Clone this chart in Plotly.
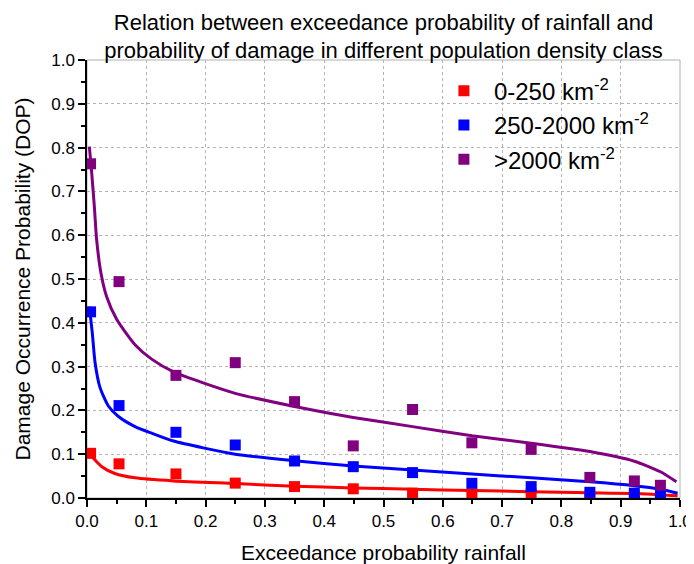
import plotly.graph_objects as go

# observed points
x_obs = [0.006, 0.054, 0.15, 0.25, 0.35, 0.449, 0.549, 0.649, 0.749, 0.848, 0.923, 0.967]
red_obs = [0.102, 0.078, 0.055, 0.034, 0.026, 0.021, 0.011, 0.009, 0.009, 0.004, 0.003, 0.002]
blue_obs = [0.425, 0.211, 0.150, 0.121, 0.0845, 0.0715, 0.058, 0.0335, 0.026, 0.013, 0.011, 0.009]
purple_obs = [0.763, 0.494, 0.280, 0.309, 0.220, 0.119, 0.202, 0.126, 0.111, 0.047, 0.039, 0.029]

# fitted curves
purple_fit_x = [0.004, 0.008, 0.0124, 0.0163, 0.0236, 0.033, 0.05, 0.081, 0.109, 0.146, 0.25, 0.35,
                0.449, 0.549, 0.649, 0.749, 0.848, 0.923, 0.967, 0.994]
purple_fit_y = [0.802, 0.741, 0.665, 0.589, 0.513, 0.460, 0.408, 0.350, 0.317, 0.288, 0.239, 0.209,
                0.184, 0.163, 0.142, 0.125, 0.106, 0.084, 0.060, 0.037]
blue_fit_x = [0.004, 0.009, 0.0135, 0.022, 0.036, 0.053, 0.081, 0.109, 0.146, 0.25, 0.35,
              0.449, 0.549, 0.649, 0.749, 0.848, 0.923, 0.967, 0.996]
blue_fit_y = [0.437, 0.376, 0.310, 0.252, 0.210, 0.186, 0.163, 0.148, 0.130, 0.100, 0.085,
              0.073, 0.064, 0.055, 0.046, 0.037, 0.028, 0.020, 0.011]
red_fit_x = [0.005, 0.0135, 0.025, 0.047, 0.081, 0.146, 0.25, 0.35, 0.449, 0.549, 0.649, 0.749,
             0.848, 0.923, 0.967, 0.996]
red_fit_y = [0.100, 0.087, 0.0715, 0.056, 0.046, 0.039, 0.033, 0.027, 0.023, 0.020, 0.017, 0.0145,
             0.012, 0.010, 0.0075, 0.005]

names = ["0-250 km<sup>-2</sup>", "250-2000 km<sup>-2</sup>", ">2000 km<sup>-2</sup>"]
colors = ["#FF0000", "#0000FF", "#800080"]

FONT = "Liberation Sans, Arial, sans-serif"

fig = go.Figure()
for fx, fy, c in [(red_fit_x, red_fit_y, colors[0]), (blue_fit_x, blue_fit_y, colors[1]),
                  (purple_fit_x, purple_fit_y, colors[2])]:
    fig.add_trace(go.Scatter(x=fx, y=fy, mode="lines", line=dict(color=c, width=3, shape="spline", smoothing=0.6),
                             showlegend=False, hoverinfo="skip"))
for ys, c, n in [(red_obs, colors[0], names[0]), (blue_obs, colors[1], names[1]), (purple_obs, colors[2], names[2])]:
    fig.add_trace(go.Scatter(x=x_obs, y=ys, mode="markers", name=n,
                             marker=dict(symbol="square", size=11, color=c)))

axis_common = dict(
    showline=True, linecolor="black", linewidth=1.5,
    ticks="outside", ticklen=7, tickwidth=1.5, tickcolor="black",
    minor=dict(ticks="outside", ticklen=4, tickwidth=1.5, tickcolor="black", dtick=0.05, showgrid=False),
    showgrid=True, gridcolor="#b4b4b4", griddash="dot", gridwidth=1,
    zeroline=False, dtick=0.1, tickformat=".1f", automargin=False,
    tickfont=dict(size=17, color="black", family=FONT),
)
fig.update_xaxes(range=[0, 1], title=dict(text="Exceedance probability rainfall", font=dict(size=21, family=FONT, color="black"), standoff=16), **axis_common)
fig.update_yaxes(range=[0, 1], title=dict(text="Damage Occurrence Probability (DOP)", font=dict(size=21, family=FONT, color="black"), standoff=15), **axis_common)

fig.add_shape(type="rect", xref="paper", yref="paper", x0=0, y0=0, x1=1, y1=1,
              line=dict(color="#b0b0b0", width=1), layer="below")

# the page body has an 8px default margin, so the figure is 8px smaller
fig.update_layout(
    width=686, height=556,
    margin=dict(l=79, r=14, t=52, b=66),
    paper_bgcolor="white", plot_bgcolor="white",
    font=dict(family=FONT, color="black"),
    title=dict(text="Relation between exceedance probability of rainfall and<br>probability of damage in different population density class",
               x=0.5, xref="paper", xanchor="center", y=0.961, yanchor="top",
               font=dict(size=22, family=FONT, color="black")),
    legend=dict(x=0.585, y=0.98, xanchor="left", yanchor="top", bgcolor="rgba(0,0,0,0)", itemwidth=50,
                font=dict(size=24, family=FONT, color="black")),
)

fig.write_html("out.html")
